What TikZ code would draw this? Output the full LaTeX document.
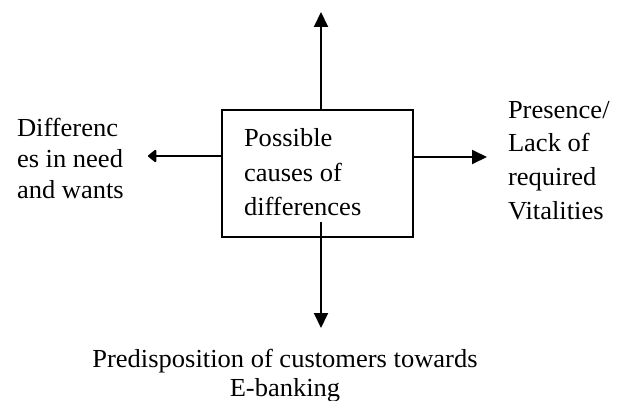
\documentclass[tikz,border=0pt]{standalone}
\usepackage{fontspec}
\setmainfont{Liberation Serif}[FakeStretch=1.02]
\usetikzlibrary{arrows.meta}

\begin{document}
\begin{tikzpicture}[x=1pt, y=-1pt, line width=2pt,
    >={Triangle[length=15pt, width=14pt]},
    label text/.style={inner sep=0pt, align=left, anchor=base west},
    causebox/.style={draw, minimum width=191pt, minimum height=127pt, inner sep=0pt}]
    % --- frame of the page ---
    \useasboundingbox (0,0) rectangle (622,401);

    % --- central box (text placed by its last baseline) ---
    \node[causebox] (cause) at (317.5,173.5) {};
    \node[label text, font=\fontsize{26}{35}\selectfont] (causetext) at (243,216)
        {Possible\\causes of\\differences};

    % --- arrow ends ---
    \coordinate (uptip) at (321,12);
    \coordinate (downstart) at (321,222);
    \coordinate (downtip) at (321,328);
    \coordinate (lefttip) at (148,156);
    \coordinate (righttip) at (487,157);

    % --- arrows ---
    \draw[->] (uptip |- cause.north) -- (uptip);
    \draw[->] (downstart) -- (downtip);
    \draw[-{Triangle[round, length=9pt, width=14pt]}] (lefttip -| cause.west) -- (lefttip);
    \draw[->] (righttip -| cause.east) -- (righttip);

    % --- labels round the box ---
    \node[label text, font=\fontsize{26}{31}\selectfont] (needs) at (16,199)
        {Differenc\\es in need\\and wants};
    \node[label text, font=\fontsize{26}{34}\selectfont] (vital) at (507,220)
        {Presence/\\Lack of\\required\\Vitalities};
    \node[inner sep=0pt, align=center, anchor=base, font=\fontsize{26}{29}\selectfont] (predisp) at (285,396)
        {Predisposition of customers towards\\E-banking};
\end{tikzpicture}
\end{document}
